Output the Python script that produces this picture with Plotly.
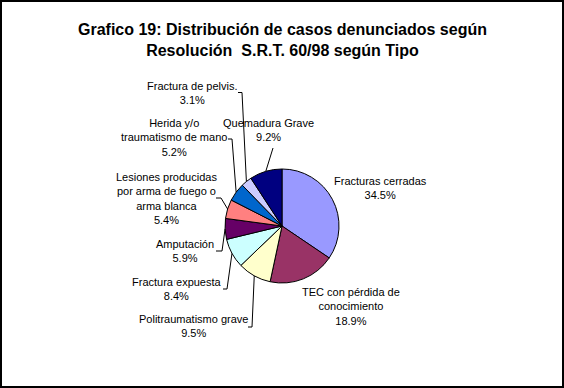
import math
import plotly.graph_objects as go

# ---- data ----
categories = [
    "Fracturas cerradas",
    "TEC con pérdida de conocimiento",
    "Politraumatismo grave",
    "Fractura expuesta",
    "Amputación",
    "Lesiones producidas por arma de fuego o arma blanca",
    "Herida y/o traumatismo de mano",
    "Fractura de pelvis.",
    "Quemadura Grave",
]
percentages = [34.5, 18.9, 9.5, 8.4, 5.9, 5.4, 5.2, 3.1, 9.2]
label_texts = [
    "Fracturas cerradas",
    "TEC con pérdida de<br>conocimiento",
    "Politraumatismo grave",
    "Fractura expuesta",
    "Amputación",
    "Lesiones producidas<br>por arma de fuego o<br>arma blanca",
    "Herida y/o<br>traumatismo de mano",
    "Fractura de pelvis.",
    "Quemadura Grave",
]
colors = ["#9999FF", "#993366", "#FFFFCC", "#CCFFFF", "#660066",
          "#FF8080", "#0066CC", "#CCCCFF", "#000080"]
title_text = "<b>Grafico 19: Distribución de casos denunciados según<br>Resolución  S.R.T. 60/98 según Tipo</b>"

# ---- layout geometry (pixels) ----
W, H = 564, 388
CX, CY, R = 282, 226, 57
# label centre positions (px)
label_pos = [(381, 188), (351, 306.7), (193, 326), (177, 289), (185, 250.5),
             (166, 198), (174, 137.5), (191.7, 92.5), (268, 129.7)]
# leader lines: elbow point and tick end (None = no line)
leaders = [None, None,
           ((252, 327), (248, 327)),
           ((227, 289), (223, 289)),
           ((222, 251), (216, 251)),
           ((221, 198), (216, 198)),
           ((232, 139), (228, 139)),
           ((242, 92.5), (238, 92.5)),
           ((273, 148), None)]

def px(x):
    return x / W

def py(y):
    return 1 - y / H

fig = go.Figure()
fig.add_trace(go.Pie(
    labels=categories,
    values=percentages,
    sort=False,
    direction="clockwise",
    rotation=0,
    marker=dict(colors=colors, line=dict(color="black", width=1)),
    textinfo="none",
    hoverinfo="label+percent",
    showlegend=False,
    domain=dict(x=[px(CX - R), px(CX + R)], y=[py(CY + R), py(CY - R)]),
))

annotations = []
shapes = []
total = sum(percentages)
cum = 0.0
for i, (cat, v) in enumerate(zip(label_texts, percentages)):
    mid = (cum + v / 2) / total * 2 * math.pi
    cum += v
    lx, ly = label_pos[i]
    annotations.append(dict(
        x=px(lx), y=py(ly), xref="paper", yref="paper",
        text=f"{cat}<br>{v:.1f}%", showarrow=False,
        xanchor="center", yanchor="middle", align="center",
        font=dict(family="Liberation Sans, Arial", size=11, color="black"),
    ))
    if leaders[i] is not None:
        ex = CX + R * math.sin(mid)
        ey = CY - R * math.cos(mid)
        elbow, tick = leaders[i]
        path = f"M {px(ex)},{py(ey)} L {px(elbow[0])},{py(elbow[1])}"
        if tick is not None:
            path += f" L {px(tick[0])},{py(tick[1])}"
        shapes.append(dict(type="path", xref="paper", yref="paper", path=path,
                           line=dict(color="black", width=1)))

annotations.append(dict(
    x=px(282), y=py(40), xref="paper", yref="paper", text=title_text,
    showarrow=False, xanchor="center", yanchor="middle", align="center",
    font=dict(family="Liberation Sans, Arial", size=16, color="black"),
))
shapes.append(dict(type="rect", xref="paper", yref="paper",
                   x0=px(1), x1=px(W - 1), y0=py(H - 1), y1=py(1),
                   line=dict(color="black", width=2)))

fig.update_layout(
    width=W, height=H,
    margin=dict(l=0, r=0, t=0, b=0),
    paper_bgcolor="white", plot_bgcolor="white",
    annotations=annotations, shapes=shapes,
)
fig.write_html("out.html")
